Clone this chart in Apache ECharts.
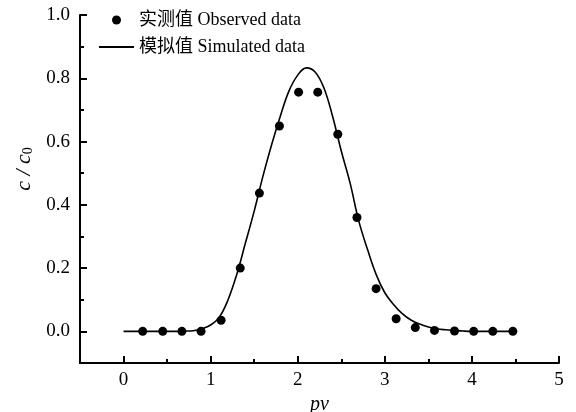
<!DOCTYPE html>
<html>
<head>
<meta charset="utf-8">
<script src="https://cdn.jsdelivr.net/npm/echarts@6/dist/echarts.min.js"></script>
<style>html,body{margin:0;padding:0;background:#fff}#c{width:576px;height:412px}</style>
</head>
<body>
<div id="c"></div>
<script>
// Observed data
var obsX = [0.22, 0.45, 0.67, 0.89, 1.12, 1.34, 1.56, 1.79, 2.01, 2.23, 2.46, 2.68, 2.90, 3.13, 3.35, 3.57, 3.80, 4.02, 4.24, 4.47];
var obsY = [0, 0, 0, 0, 0.035, 0.20, 0.437, 0.649, 0.756, 0.756, 0.623, 0.36, 0.135, 0.04, 0.012, 0.003, 0.001, 0, 0, 0];
// Simulated curve
var simX = [0, 0.1, 0.2, 0.3, 0.4, 0.5, 0.6, 0.7, 0.8, 0.9, 1.0, 1.1, 1.2, 1.3, 1.4, 1.5, 1.6, 1.7, 1.8, 1.9, 2.0, 2.1, 2.2, 2.3, 2.4, 2.5, 2.6, 2.7, 2.8, 2.9, 3.0, 3.1, 3.2, 3.3, 3.4, 3.5, 3.6, 3.7, 3.8, 3.9, 4.0, 4.1, 4.2, 4.3, 4.4, 4.47];
var simY = [0, 0, 0, 0, 0, 0, 0, 0.001, 0.002, 0.008, 0.02, 0.045, 0.10, 0.18, 0.28, 0.38, 0.49, 0.59, 0.68, 0.76, 0.81, 0.833, 0.82, 0.77, 0.68, 0.57, 0.47, 0.35, 0.26, 0.18, 0.122, 0.085, 0.056, 0.036, 0.023, 0.014, 0.008, 0.005, 0.003, 0.001, 0, 0, 0, 0, 0, 0];
// Ticks
var xMajor = [0, 1, 2, 3, 4, 5];
var xMinor = [0.5, 1.5, 2.5, 3.5, 4.5];
var yMajor = [0, 0.2, 0.4, 0.6, 0.8, 1.0];
var yMinor = [0.1, 0.3, 0.5, 0.7, 0.9];

var FONT = '"Liberation Serif","Times New Roman","Noto Sans CJK SC",serif';
var chart = echarts.init(document.getElementById('c'));

function zip(a, b) { return a.map(function (v, i) { return [v, b[i]]; }); }

var baseX = { type: 'value', min: -0.5, max: 5, splitLine: { show: false } };
var baseY = { type: 'value', min: -0.1, max: 1.0, splitLine: { show: false } };

chart.setOption({
  animation: false,
  backgroundColor: '#fff',
  grid: { left: 80, right: 17, top: 15, bottom: 49, outerBoundsMode: 'none', containLabel: false },
  legend: {
    orient: 'vertical',
    left: 93,
    top: 6,
    itemWidth: 35,
    itemHeight: 9,
    itemGap: 9,
    textStyle: { fontFamily: FONT, fontSize: 18, color: '#000' },
    data: [
      { name: '实测值 Observed data', icon: 'circle' },
      { name: '模拟值 Simulated data', itemStyle: { opacity: 0 } }
    ]
  },
  xAxis: [
    Object.assign({}, baseX, {
      position: 'bottom',
      axisLine: { show: true, onZero: false, lineStyle: { color: '#000', width: 2 } },
      axisTick: { show: true, inside: true, length: 7, customValues: xMajor, lineStyle: { color: '#000', width: 2 } },
      axisLabel: { customValues: xMajor, margin: 8, fontFamily: FONT, fontSize: 19, color: '#000' },
      name: 'pv',
      nameLocation: 'middle',
      nameGap: 16,
      nameTextStyle: { fontFamily: FONT, fontSize: 20, fontStyle: 'italic', color: '#000' }
    }),
    Object.assign({}, baseX, {
      position: 'bottom',
      axisLine: { show: false, onZero: false },
      axisTick: { show: true, inside: true, length: 4, customValues: xMinor, lineStyle: { color: '#000', width: 2 } },
      axisLabel: { show: false }
    })
  ],
  yAxis: [
    Object.assign({}, baseY, {
      position: 'left',
      axisLine: { show: true, onZero: false, lineStyle: { color: '#000', width: 2 } },
      axisTick: { show: true, inside: true, length: 7, customValues: yMajor, lineStyle: { color: '#000', width: 2 } },
      axisLabel: { customValues: yMajor, margin: 10, fontFamily: FONT, fontSize: 19, color: '#000',
        formatter: function (v) { return v.toFixed(1); } },
      name: '{i|c / c}{s|0}',
      nameLocation: 'middle',
      nameRotate: 90,
      nameGap: 43,
      nameTextStyle: {
        color: '#000',
        padding: [0, 0, 0, 40],
        rich: {
          i: { fontFamily: FONT, fontSize: 22, fontStyle: 'italic', color: '#000' },
          s: { fontFamily: FONT, fontSize: 14, color: '#000', verticalAlign: 'bottom', padding: [9, 0, 0, 0] }
        }
      }
    }),
    Object.assign({}, baseY, {
      position: 'left',
      axisLine: { show: false, onZero: false },
      axisTick: { show: true, inside: true, length: 4, customValues: yMinor, lineStyle: { color: '#000', width: 2 } },
      axisLabel: { show: false }
    })
  ],
  series: [
    {
      name: '实测值 Observed data',
      type: 'scatter',
      symbol: 'circle',
      symbolSize: 9,
      itemStyle: { color: '#000', opacity: 1 },
      data: zip(obsX, obsY),
      z: 3
    },
    {
      name: '模拟值 Simulated data',
      type: 'line',
      smooth: 0.4,
      symbol: 'none',
      showSymbol: false,
      lineStyle: { color: '#000', width: 1.6 },
      itemStyle: { color: '#000' },
      data: zip(simX, simY),
      z: 2
    }
  ]
});
</script>
</body>
</html>
